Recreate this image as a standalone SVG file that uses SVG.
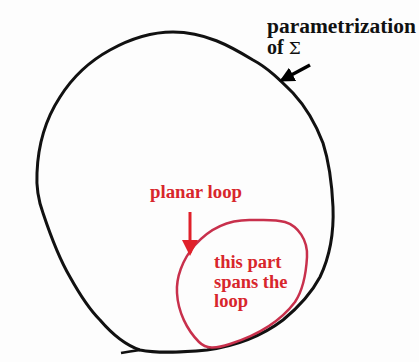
<svg xmlns="http://www.w3.org/2000/svg" width="419" height="362" viewBox="0 0 419 362">
<defs>
<style>
.lbl{font-family:"Liberation Serif","DejaVu Serif",serif;font-weight:bold}
.blk{fill:#111}
.red{fill:#d8262c}
</style>
<marker id="ahB" markerWidth="15" markerHeight="15" refX="12" refY="7.5" orient="auto" markerUnits="userSpaceOnUse" viewBox="0 0 15 15">
<path d="M0,0 L15,7.5 L0,15 z" fill="#000"/>
</marker>
<marker id="ahR" markerWidth="16" markerHeight="16" refX="13" refY="8" orient="auto" markerUnits="userSpaceOnUse" viewBox="0 0 16 16">
<path d="M0,0 L16,8 L0,16 z" fill="#e0202a"/>
</marker>
</defs>
<rect width="419" height="362" fill="#fdfdfd"/>
<g id="surface">
<path d="M173,32 C150,32 128,40 110,50 C88,62 72,78 60,97 C45,120 38,145 37,173 C36,190 39,202 43,213 C52,240 60,260 70,277 C80,295 90,310 100,320 C112,334 125,345 140,350 C160,354 185,352 207,350 C235,346 262,336 283,320 C300,306 312,292 320,277 C330,256 334,232 333,207 C332,185 330,165 323,143 C315,122 305,106 293,93 C280,80 268,68 253,60 C230,46 205,32 173,32 Z" fill="none" stroke="#111" stroke-width="3"/>
<path d="M140,350 C132,351 126,352 121,353" fill="none" stroke="#111" stroke-width="2.5"/>
</g>
<g id="loop">
<path d="M253,220 C230,219 210,228 195,245 C182,260 176,278 177,293 C178,312 187,330 199,342 C206,349 215,349 230,344 C255,336 280,322 295,302 C303,290 306,275 307,257 C308,240 298,226 285,222 C275,219 264,220 253,220 Z" fill="none" stroke="#c8304c" stroke-width="2.5"/>
</g>
<g id="connectors">
<line x1="310" y1="65" x2="282" y2="80" stroke="#000" stroke-width="3.5" marker-end="url(#ahB)"/>
<line x1="190" y1="212" x2="190" y2="253" stroke="#e0202a" stroke-width="3" marker-end="url(#ahR)"/>
</g>
<g id="label-param">
<text class="lbl blk" x="267" y="33" font-size="20" textLength="149" lengthAdjust="spacingAndGlyphs">parametrization</text>
<text class="lbl blk" x="267" y="54" font-size="20">of <tspan font-weight="normal" font-family="DejaVu Serif, serif" font-size="17">Σ</tspan></text>
</g>
<g id="label-planar">
<text class="lbl red" x="150" y="198" font-size="18.5" textLength="92" lengthAdjust="spacingAndGlyphs">planar loop</text>
</g>
<g id="label-spans">
<text class="lbl red" x="214" y="268" font-size="18.5">this part</text>
<text class="lbl red" x="214" y="288" font-size="18.5">spans the</text>
<text class="lbl red" x="214" y="307" font-size="18.5">loop</text>
</g>
</svg>
